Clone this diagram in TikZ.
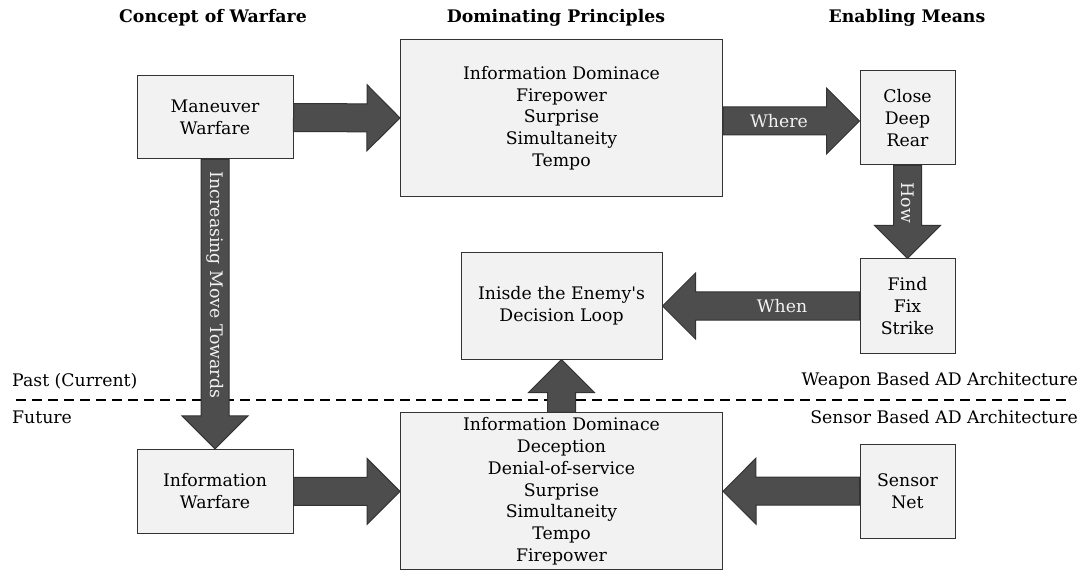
\documentclass[tikz,border=0pt]{standalone}
\usepackage{fontspec}
\setmainfont{DejaVu Serif}
\newfontfamily\plainq{DejaVu Serif}
\usetikzlibrary{calc}
\definecolor{boxfill}{HTML}{F2F2F2}
\definecolor{boxline}{HTML}{333333}
\definecolor{arrfill}{HTML}{4D4D4D}
\definecolor{arrline}{HTML}{333333}
\definecolor{arrtext}{HTML}{F2F2F2}
\newcommand\bodyfnt{\fontsize{17.3}{21.7}\selectfont}
\newcommand\hdrfnt{\fontsize{17.3}{21}\selectfont\bfseries}
\tikzset{
  box/.style={draw=boxline, fill=boxfill, line width=1pt, align=center, inner sep=0pt, font=\bodyfnt},
  hdr/.style={font=\hdrfnt, inner sep=0pt},
  plain/.style={font=\bodyfnt, inner sep=0pt},
  arrlabel/.style={font=\bodyfnt, text=arrtext, inner sep=0pt},
  divider/.style={dash pattern=on 10pt off 6pt, line width=2pt, draw=black},
  blockarrow/.style={draw=arrline, fill=arrfill, line width=1pt, line join=miter,
    to path={let \p1=(\tikztostart), \p2=(\tikztotarget), \p3=($(\p2)!33pt!(\p1)$) in
      ($(\p1)!14pt!90:(\p2)$) -- ($(\p3)!14pt!-90:(\p1)$) -- ($(\p3)!33pt!-90:(\p1)$) -- (\p2)
      -- ($(\p3)!33pt!90:(\p1)$) -- ($(\p3)!14pt!90:(\p1)$) -- ($(\p1)!14pt!-90:(\p2)$) -- cycle}},
}
\begin{document}
\begin{tikzpicture}[x=1pt,y=-1pt]
\useasboundingbox (0,0) rectangle (1085,572);

% headers
\node[hdr] (h1) at (213,18) {Concept of Warfare};
\node[hdr] (h2) at (556,18) {Dominating Principles};
\node[hdr] (h3) at (907,18) {Enabling Means};

% divider
\coordinate (dl) at (16,399.5);
\coordinate (dr) at (1068,399.5);
\draw[divider] (dl) -- (dr);
\node[plain, anchor=west] (past) at (12,381) {Past (Current)};
\node[plain, anchor=west] (fut) at (12,417) {Future};
\node[plain, anchor=east] (wpn) at (1078,381) {Weapon Based AD Architecture};
\node[plain, anchor=east] (sns) at (1078,417) {Sensor Based AD Architecture};

% boxes
\node[box, minimum width=156, minimum height=83] (man) at (215,117.5) {Maneuver\\Warfare};
\node[box, minimum width=322, minimum height=157] (dom1) at (561.5,118) {Information Dominace\\Firepower\\Surprise\\Simultaneity\\Tempo};
\node[box, minimum width=95, minimum height=94] (close) at (907.5,118) {Close\\Deep\\Rear};
\node[box, minimum width=95, minimum height=94] (find) at (907.5,306) {Find\\Fix\\Strike};
\node[box, minimum width=201, minimum height=106] (inside) at (561.5,306) {Inisde the Enemy{\plainq\char39}s\\Decision Loop};
\node[box, minimum width=156, minimum height=84] (infow) at (215,491.3) {Information\\Warfare};
\node[box, minimum width=322, minimum height=157] (dom2) at (561.5,491.3) {Information Dominace\\Deception\\Denial-of-service\\Surprise\\Simultaneity\\Tempo\\Firepower};
\node[box, minimum width=95, minimum height=94] (sensor) at (907.5,491) {Sensor\\Net};

% block arrows
\draw[blockarrow] (man.east) to (dom1.west);
\draw[blockarrow] (dom1.east |- 0,121) to (close.west |- 0,121);
\draw[blockarrow] (close.south) to (find.north);
\draw[blockarrow] (find.west) to (inside.east);
\draw[blockarrow] (man.south) to (infow.north);
\draw[blockarrow] (dom2.north) to (inside.south);
\draw[blockarrow] (infow.east) to (dom2.west);
\draw[blockarrow] (sensor.west) to (dom2.east);

% arrow labels
\node[arrlabel] (lwhere) at (779,121) {Where};
\node[arrlabel, rotate=-90] (lhow) at (907.5,203) {How};
\node[arrlabel] (lwhen) at (782,306) {When};
\node[arrlabel, rotate=-90] (lmove) at (215,285) {Increasing Move Towards};
\end{tikzpicture}
\end{document}
